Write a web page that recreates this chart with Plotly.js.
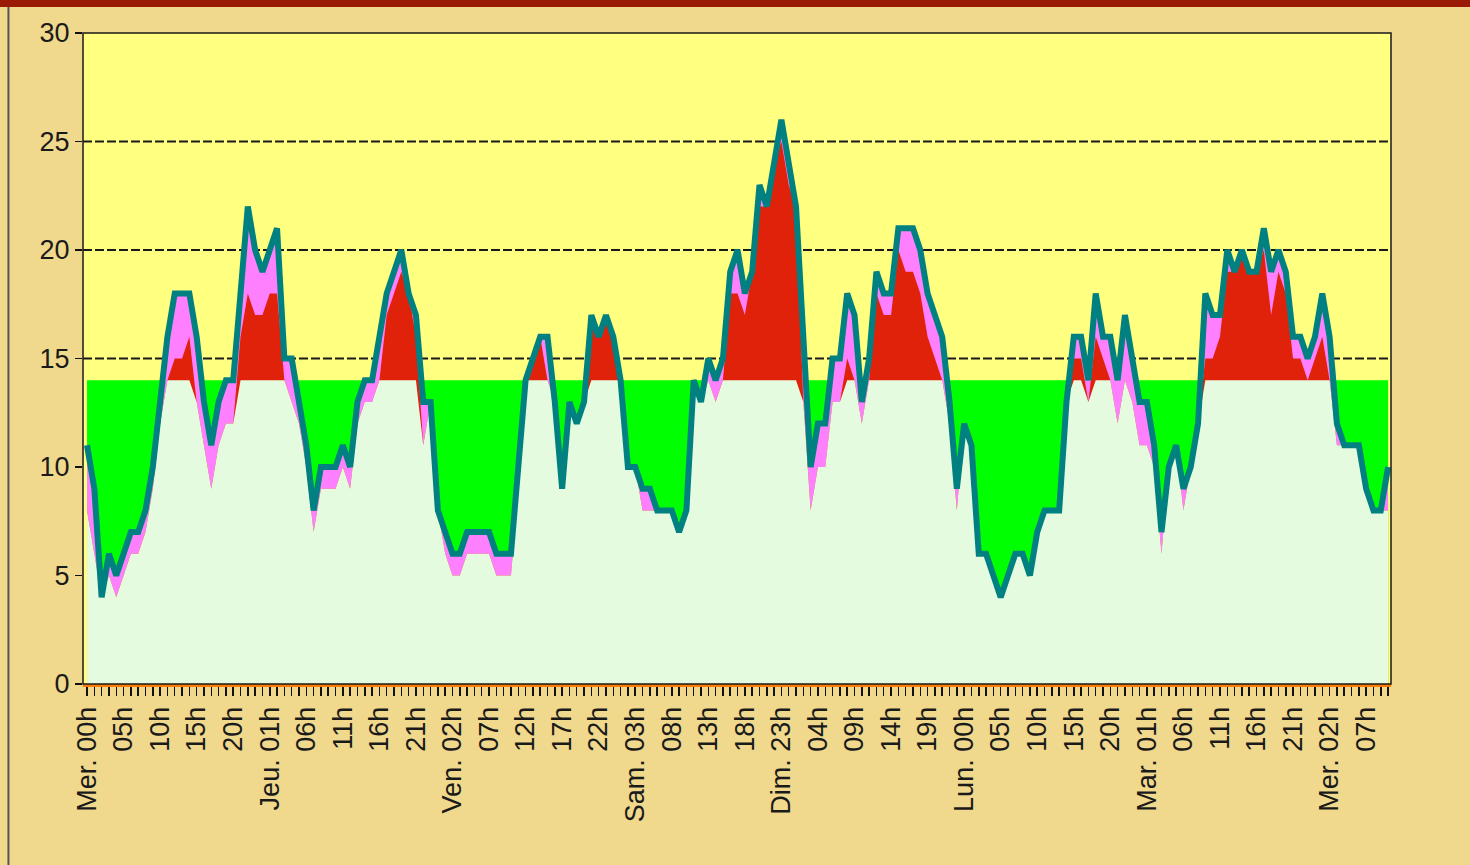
<!DOCTYPE html>
<html>
<head>
<meta charset="utf-8">
<script src="https://cdn.plot.ly/plotly-3.0.1.min.js"></script>
<style>
  html, body { margin: 0; padding: 0; background: #f0d88c; }
  #chart { width: 1470px; height: 865px; }
</style>
</head>
<body>
<div id="chart"></div>
<script>
// Hourly values, Mer. 00h .. Mer. 10h (179 hours)
const upperSeries = [
  11, 9, 4, 6, 5, 6, 7, 7, 8, 10,
  13, 16, 18, 18, 18, 16, 13, 11, 13, 14,
  14, 18, 22, 20, 19, 20, 21, 15, 15, 13,
  11, 8, 10, 10, 10, 11, 10, 13, 14, 14,
  16, 18, 19, 20, 18, 17, 13, 13, 8, 7,
  6, 6, 7, 7, 7, 7, 6, 6, 6, 10,
  14, 15, 16, 16, 13, 9, 13, 12, 13, 17,
  16, 17, 16, 14, 10, 10, 9, 9, 8, 8,
  8, 7, 8, 14, 13, 15, 14, 15, 19, 20,
  18, 19, 23, 22, 24, 26, 24, 22, 16, 10,
  12, 12, 15, 15, 18, 17, 13, 15, 19, 18,
  18, 21, 21, 21, 20, 18, 17, 16, 13, 9,
  12, 11, 6, 6, 5, 4, 5, 6, 6, 5,
  7, 8, 8, 8, 13, 16, 16, 14, 18, 16,
  16, 14, 17, 15, 13, 13, 11, 7, 10, 11,
  9, 10, 12, 18, 17, 17, 20, 19, 20, 19,
  19, 21, 19, 20, 19, 16, 16, 15, 16, 18,
  16, 12, 11, 11, 11, 9, 8, 8, 10
];
const lowerSeries = [
  8, 6, 4, 5, 4, 5, 6, 6, 7, 9,
  12, 14, 15, 15, 16, 13, 11, 9, 11, 12,
  12, 16, 18, 17, 17, 18, 18, 14, 13, 12,
  10, 7, 9, 9, 9, 10, 9, 12, 13, 13,
  14, 17, 18, 19, 18, 16, 11, 13, 8, 6,
  5, 5, 6, 6, 6, 6, 5, 5, 5, 9,
  14, 15, 16, 14, 13, 9, 13, 12, 13, 17,
  16, 17, 16, 14, 10, 10, 8, 8, 8, 8,
  8, 7, 8, 14, 13, 14, 13, 14, 18, 18,
  17, 19, 22, 22, 24, 25, 23, 22, 13, 8,
  10, 10, 13, 13, 15, 14, 12, 14, 18, 17,
  17, 20, 19, 19, 18, 16, 15, 14, 12, 8,
  12, 11, 6, 6, 5, 4, 5, 6, 6, 5,
  7, 8, 8, 8, 13, 15, 15, 13, 16, 15,
  14, 12, 14, 13, 11, 11, 10, 6, 10, 11,
  8, 10, 12, 15, 15, 16, 19, 19, 20, 19,
  19, 20, 17, 19, 18, 15, 15, 14, 15, 16,
  14, 11, 11, 11, 11, 9, 8, 8, 8
];
const threshold = 14;
const tickHours = [0,5,10,15,20,25,30,35,40,45,50,55,60,65,70,75,80,85,90,95,
                   100,105,110,115,120,125,130,135,140,145,150,155,160,165,170,175];
const tickLabels = ["Mer. 00h","05h","10h","15h","20h","Jeu. 01h","06h","11h","16h","21h",
                    "Ven. 02h","07h","12h","17h","22h","Sam. 03h","08h","13h","18h","Dim. 23h",
                    "04h","09h","14h","19h","Lun. 00h","05h","10h","15h","20h","Mar. 01h",
                    "06h","11h","16h","21h","Mer. 02h","07h"];
const yTicks = [0,5,10,15,20,25,30];

const hours = upperSeries.map((_, i) => i);
const lowerBelow = lowerSeries.map(v => Math.min(v, threshold));

const traces = [
  {x: hours, y: upperSeries, type: 'scatter', mode: 'lines', fill: 'tozeroy',
   fillcolor: '#ff80ff', line: {width: 0, color: '#ff80ff'}, hoverinfo: 'skip'},
  {x: hours, y: lowerSeries, type: 'scatter', mode: 'lines', fill: 'tozeroy',
   fillcolor: '#e0220a', line: {width: 0, color: '#e0220a'}, hoverinfo: 'skip'},
  {x: hours, y: lowerBelow, type: 'scatter', mode: 'lines', fill: 'tozeroy',
   fillcolor: '#e5fbdf', line: {width: 0, color: '#e5fbdf'}, hoverinfo: 'skip'},
  {x: hours, y: upperSeries, type: 'scatter', mode: 'lines',
   line: {width: 6, color: '#008080'}}
];

const shapes = [
  // green zone under threshold
  {type: 'rect', xref: 'x', yref: 'y', x0: hours[0], x1: hours[hours.length-1], y0: 0, y1: threshold,
   fillcolor: '#00ff00', line: {width: 0}, layer: 'below'},
  // top dark red band
  {type: 'rect', xref: 'paper', yref: 'paper', x0: -0.2, x1: 1.2, y0: 1.04, y1: 1.2,
   fillcolor: '#9a1a06', line: {width: 0}, layer: 'below'},
  // left border line
  {type: 'line', xref: 'paper', yref: 'paper', x0: -0.0570, x1: -0.0570, y0: -0.3, y1: 1.04,
   line: {color: '#555555', width: 2}, layer: 'below'}
];
[15, 20, 25].forEach(v => shapes.push({
  type: 'line', xref: 'paper', yref: 'y', x0: 0, x1: 1, y0: v, y1: v,
  line: {color: '#1a1a1a', width: 2, dash: '9px,3px'}, layer: 'below'
}));
// plot frame
shapes.push({type: 'rect', xref: 'paper', yref: 'paper', x0: 0, x1: 1, y0: 0, y1: 1,
  line: {color: '#1a1a1a', width: 1.5}, fillcolor: 'rgba(0,0,0,0)', layer: 'above'});

const layout = {
  width: 1470, height: 865,
  margin: {l: 83, r: 79, t: 33, b: 181},
  paper_bgcolor: '#f0d88c',
  plot_bgcolor: '#ffff80',
  showlegend: false,
  font: {family: '"Liberation Sans", Arial, sans-serif', color: '#222222', size: 26},
  xaxis: {
    range: [-0.55, 178.4],
    tickmode: 'array', tickvals: tickHours, ticktext: tickLabels,
    tickangle: -90, ticks: 'outside', ticklen: 9, tickwidth: 1.5, tickcolor: '#111111',
    tickfont: {size: 27, color: '#1a1a1a'},
    minor: {dtick: 1, tick0: 0, ticks: 'outside', ticklen: 9, tickwidth: 1.5, tickcolor: '#111111'},
    showgrid: false, zeroline: false,
    showline: true, linecolor: '#ff7a00', linewidth: 3
  },
  yaxis: {
    range: [0, 30],
    tickmode: 'array', tickvals: yTicks,
    ticks: 'outside', ticklen: 7, tickwidth: 1.5, tickcolor: '#111111',
    tickfont: {size: 27, color: '#1a1a1a'},
    showgrid: false, zeroline: false, showline: false
  },
  shapes: shapes
};

Plotly.newPlot('chart', traces, layout, {displayModeBar: false, staticPlot: true});
</script>
</body>
</html>
